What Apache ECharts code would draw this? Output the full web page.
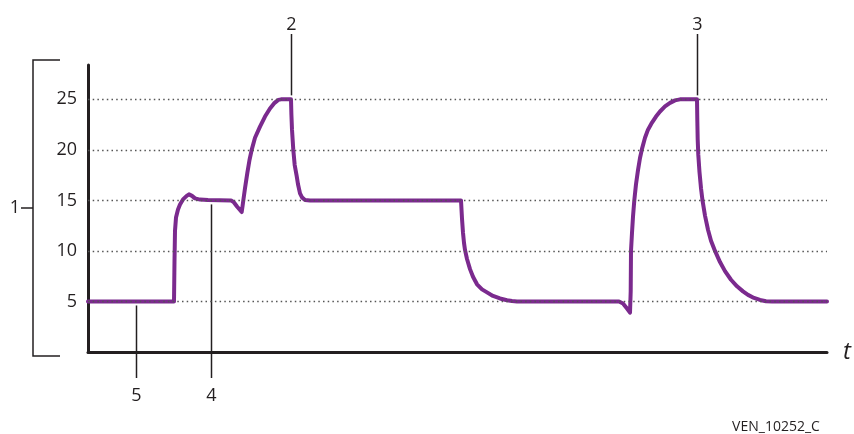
<!DOCTYPE html>
<html>
<head>
<meta charset="utf-8">
<script src="https://cdn.jsdelivr.net/npm/echarts@6/dist/echarts.min.js"></script>
<style>
  html, body { margin: 0; padding: 0; background: #ffffff; }
  #chart { width: 854px; height: 434px; }
</style>
</head>
<body>
<div id="chart"></div>
<script>
// Time axis positions (arbitrary units) and signal level along the trace
const tValues = [
  0, 86, 86.5, 87, 88, 90, 92, 95, 98.7, 101, 102.7, 104, 107, 112, 120,
  143, 146, 149, 152, 153.7, 154.5, 155.3, 157, 159.3, 161.5, 163.7, 167, 172, 177, 182, 186, 190.3, 193,
  203, 203.4, 204, 205.3, 206.7, 208.7, 210, 212, 214, 217, 222,
  373, 374, 375, 376, 377, 379, 382, 385, 389, 394, 399, 405, 412, 419, 424, 429,
  531, 535, 539, 542, 542.7, 543, 544, 545, 546.3, 548, 550, 552, 554, 557, 560, 564,
  568, 572, 577, 582, 587, 592,
  609, 609.3, 609.7, 610.3, 611.5, 613, 614.5, 617, 620, 623, 627, 632, 637, 643, 649, 655,
  660, 666, 672, 678, 684, 739];
const levels = [
  5, 5, 9, 12, 13.3, 14.1, 14.6, 15.1, 15.45, 15.6, 15.64, 15.45, 15.2, 15.08, 15.03,
  15, 14.8, 14.4, 14.05, 13.85, 14.4, 15, 16.2, 17.7, 19, 20, 21.2, 22.3, 23.3, 24.1, 24.6, 24.95, 25,
  25, 23.5, 22, 20, 18.5, 17.4, 16.6, 15.7, 15.3, 15.05, 15,
  15, 13.2, 11.8, 10.8, 10.1, 9.2, 8.2, 7.45, 6.7, 6.2, 5.9, 5.55, 5.3, 5.12, 5.04, 5,
  5, 4.8, 4.3, 3.9, 6, 10, 11.8, 13.4, 15, 16.6, 18, 19.2, 20.1, 21.2, 22, 22.7,
  23.3, 23.8, 24.3, 24.65, 24.9, 25,
  25, 23, 21, 19.5, 17.8, 16.2, 15, 13.5, 12.1, 11, 10, 8.9, 8, 7.15, 6.5, 6,
  5.65, 5.35, 5.15, 5.03, 5, 5];

// Labelled y levels (also drawn as dotted guide lines)
const yTicks = [5, 10, 15, 20, 25];

// Callout numbers and the trace points they refer to
const callouts = [
  { text: '2', t: 203, y: 25, above: true },
  { text: '3', t: 609, y: 25, above: true },
  { text: '4', t: 123, y: 15, above: false },
  { text: '5', t: 48, y: 5, above: false }
];

const ink = '#231f20';
const purple = '#7b2a8e';
const font = '"Open Sans", "Noto Sans", sans-serif';

const chart = echarts.init(document.getElementById('chart'), null, { renderer: 'canvas' });

const seriesData = tValues.map((t, i) => [t, levels[i]]);

chart.setOption({
  animation: false,
  grid: { left: 88, right: 27, top: 65, bottom: 82 },
  xAxis: {
    type: 'value', min: 0, max: 739,
    axisLine: { show: true, lineStyle: { color: ink, width: 3 } },
    axisTick: { show: false }, axisLabel: { show: false }, splitLine: { show: false }
  },
  yAxis: {
    type: 'value', min: 0, max: 28.4, interval: 5,
    axisLine: { show: true, lineStyle: { color: ink, width: 3 } },
    axisTick: { show: false },
    splitLine: { show: false },
    axisLabel: {
      margin: 11, color: ink, fontSize: 18, fontFamily: font,
      formatter: v => (yTicks.indexOf(v) >= 0 ? String(v) : '')
    }
  },
  series: [
    {
      type: 'line', data: [], z: 1, silent: true,
      markLine: {
        silent: true, symbol: 'none', label: { show: false },
        lineStyle: { type: [1.5, 3.2], color: '#555555', width: 1.3 },
        data: yTicks.map(v => ({ yAxis: v }))
      }
    },
    {
      type: 'line', data: seriesData, z: 3, showSymbol: false, smooth: false,
      lineStyle: { color: purple, width: 4, join: 'round', cap: 'round' }
    }
  ]
});

const graphics = [];
// Bracket spanning the vertical axis, labelled 1
graphics.push({
  type: 'polyline', silent: true,
  shape: { points: [[60, 60], [33, 60], [33, 356], [60, 356]] },
  style: { stroke: ink, lineWidth: 1.5, fill: null }
});
graphics.push({
  type: 'line', silent: true,
  shape: { x1: 21, y1: 208, x2: 33, y2: 208 },
  style: { stroke: ink, lineWidth: 1.5 }
});
graphics.push({
  type: 'text', silent: true, x: 15, y: 208,
  style: { text: '1', fill: ink, font: '18px ' + font, align: 'center', verticalAlign: 'middle' }
});

callouts.forEach(c => {
  const p = chart.convertToPixel({ seriesIndex: 1 }, [c.t, c.y]);
  const x = Math.round(p[0]) + 0.5;
  if (c.above) {
    graphics.push({ type: 'line', silent: true,
      shape: { x1: x, y1: 34, x2: x, y2: p[1] - 4 },
      style: { stroke: ink, lineWidth: 1.5 } });
    graphics.push({ type: 'text', silent: true, x: x, y: 25,
      style: { text: c.text, fill: ink, font: '18px ' + font, align: 'center', verticalAlign: 'middle' } });
  } else {
    graphics.push({ type: 'line', silent: true,
      shape: { x1: x, y1: p[1] + 4, x2: x, y2: 378 },
      style: { stroke: ink, lineWidth: 1.5 } });
    graphics.push({ type: 'text', silent: true, x: x, y: 396,
      style: { text: c.text, fill: ink, font: '18px ' + font, align: 'center', verticalAlign: 'middle' } });
  }
});

// Axis name and figure code
graphics.push({
  type: 'text', silent: true, x: 847, y: 352,
  style: { text: 't', fill: ink, font: 'italic 24px ' + font, align: 'center', verticalAlign: 'middle' }
});
graphics.push({
  type: 'text', silent: true, x: 776, y: 427,
  style: { text: 'VEN_10252_C', fill: ink, font: '14px ' + font, align: 'center', verticalAlign: 'middle' }
});

chart.setOption({ graphic: graphics });
</script>
</body>
</html>
